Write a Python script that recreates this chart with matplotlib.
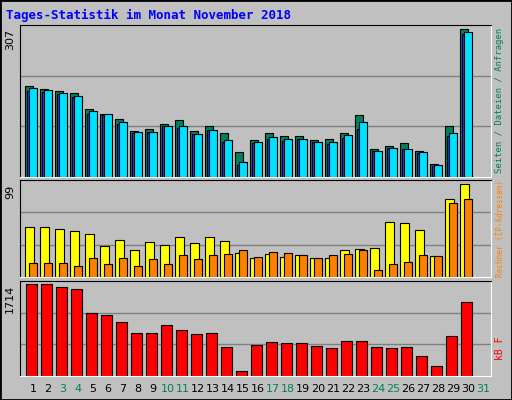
import matplotlib
matplotlib.use("Agg")
import matplotlib.pyplot as plt

days = list(range(1, 32))
weekend = [3, 4, 10, 11, 17, 18, 24, 25, 31]

# daily values, day 31 empty
anfragen = [189, 183, 178, 174, 142, 132, 120, 95, 99, 111, 118, 95, 105, 92, 51,
            76, 91, 86, 86, 76, 78, 92, 128, 58, 65, 70, 55, 26, 105, 307]
dateien = [184, 180, 174, 169, 137, 130, 115, 93, 94, 107, 107, 90, 97, 76, 32,
           72, 84, 78, 78, 72, 72, 88, 115, 55, 61, 59, 51, 24, 92, 301]
seiten = [178, 177, 172, 167, 130, 128, 111, 92, 93, 105, 101, 89, 97, 72, 24,
          71, 78, 74, 78, 72, 69, 82, 99, 54, 60, 59, 49, 23, 86, 298]
besuche = [53, 53, 51, 49, 46, 33, 40, 29, 37, 34, 43, 36, 43, 38, 26,
           20, 25, 21, 24, 20, 20, 29, 30, 31, 59, 58, 50, 22, 83, 99]
rechner = [15, 15, 15, 12, 20, 14, 20, 12, 19, 14, 24, 19, 23, 25, 29,
           21, 27, 26, 23, 20, 23, 25, 29, 8, 14, 16, 24, 22, 79, 83]
kbytes = [1714, 1714, 1658, 1620, 1170, 1132, 1001, 813, 813, 945, 851, 794, 813, 550, 100,
          588, 644, 626, 626, 569, 532, 663, 663, 550, 532, 550, 382, 194, 757, 1376]

W, H = 512, 400
fig = plt.figure(figsize=(5.12, 4), dpi=100, facecolor="#C0C0C0")
fig.patches.append(plt.Rectangle((0, 0), 1, 1, transform=fig.transFigure,
                                 fill=False, edgecolor="black", lw=2))

def panel(top, bottom, ymax):
    ax = fig.add_axes([20 / W, 1 - bottom / H, 471 / W, (bottom - top) / H])
    ax.set_facecolor("#C0C0C0")
    ax.set_xlim(0.133, 31.53)
    ax.set_ylim(0, ymax)
    ax.set_xticks([])
    ax.set_yticks([])
    for f in (1 / 3, 2 / 3):
        ax.axhline(ymax * f, color="#808080", lw=1, zorder=0)
    for s in ax.spines.values():
        s.set_color("black")
    ax.spines["bottom"].set_color("white")
    ax.spines["right"].set_color("white")
    return ax

x = days[:30]
kw = dict(edgecolor="black", linewidth=0.8, align="center")

ax1 = panel(25, 177, 316)
ax1.bar([d - 0.28 for d in x], anfragen, width=0.52, color="#008060", **kw)
ax1.bar([d - 0.25 for d in x], seiten, width=0.25, color="#0040FF", **kw)
ax1.bar(x, dateien, width=0.5, color="#00E0FF", **kw)
ax1.text(-0.2, 307, "307", rotation=90, ha="right", va="top", fontsize=8, clip_on=False)

ax2 = panel(180, 277, 103.6)
ax2.bar([d - 0.23 for d in x], besuche, width=0.55, color="#FFFF00", **kw)
ax2.bar(x, rechner, width=0.5, color="#FF8000", **kw)
ax2.text(-0.2, 99, "99", rotation=90, ha="right", va="top", fontsize=8, clip_on=False)

ax3 = panel(281, 376, 1776)
ax3.bar([d - 0.1 for d in x], kbytes, width=0.7, color="#FF0000", **kw)
ax3.text(-0.2, 1714, "1714", rotation=90, ha="right", va="top", fontsize=8, clip_on=False)

for d in days:
    fig.text((33 + 15 * (d - 1)) / W, 1 - 389 / H, str(d), ha="center", va="center",
             fontsize=8, color="#00805C" if d in weekend else "black")

fig.text(6 / W, 1 - 15 / H, "Tages-Statistik im Monat November 2018", color="#0000FF",
         fontsize=9, fontweight="bold", family="DejaVu Sans Mono", va="center")

# right side labels
fig.text(500 / W, 1 - 100 / H, "Seiten / Dateien / Anfragen", rotation=90, ha="center",
         va="center", fontsize=6.5, color="#008060", family="DejaVu Sans Mono")
fig.text(500 / W, 1 - 228 / H, "Rechner (IP-Adressen)", rotation=90, ha="center",
         va="center", fontsize=5.5, color="#FF8000", family="DejaVu Sans Mono")
fig.text(500 / W, 1 - 348 / H, "kB F", rotation=90, ha="center",
         va="center", fontsize=7, color="#FF0000", family="DejaVu Sans Mono")

fig.savefig("out.png", dpi=100, facecolor=fig.get_facecolor())
